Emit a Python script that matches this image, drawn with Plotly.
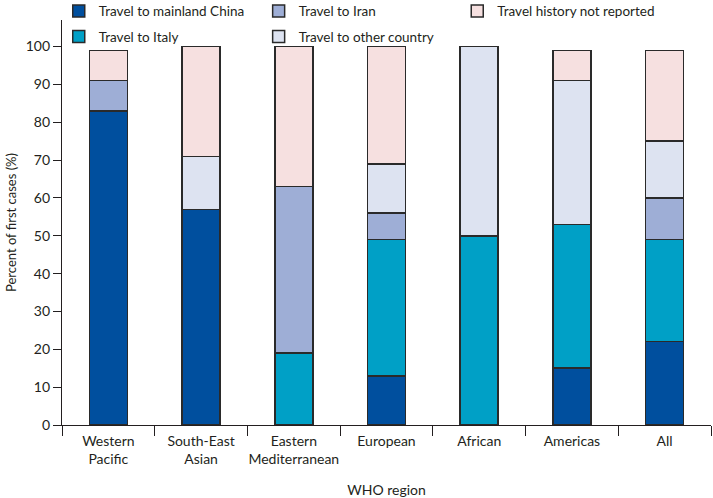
import plotly.graph_objects as go

regions = ["Western<br>Pacific", "South-East<br>Asian", "Eastern<br>Mediterranean",
           "European", "African", "Americas", "All"]
china = [83, 57, 0, 13, 0, 15, 22]
italy = [0, 0, 19, 36, 50, 38, 27]
iran = [8, 0, 44, 7, 0, 0, 11]
other = [0, 14, 0, 13, 50, 38, 15]
not_reported = [8, 29, 37, 31, 0, 8, 24]

series = [
    ("Travel to mainland China", china, "#004F9E", "legend"),
    ("Travel to Italy", italy, "#00A0C6", "legend"),
    ("Travel to Iran", iran, "#9EAED6", "legend2"),
    ("Travel to other country", other, "#DDE3F1", "legend2"),
    ("Travel history not reported", not_reported, "#F6E0E0", "legend3"),
]

FONT = "Lato, sans-serif"

fig = go.Figure()
for name, vals, color, leg in series:
    fig.add_trace(go.Bar(
        x=regions, y=vals, name=name, legend=leg, legendgroup=name,
        marker=dict(color=color, line=dict(color="#2a2a2a", width=1.5)),
    ))

def leg(xpos):
    return dict(
        orientation="v", x=xpos, xanchor="left", y=1.06, yanchor="top",
        traceorder="grouped", tracegroupgap=5,
        font=dict(size=13.5), itemwidth=30,
        bgcolor="rgba(0,0,0,0)",
    )

fig.update_layout(
    barmode="stack",
    bargap=0.59,
    width=713, height=498,
    margin=dict(l=62, r=2, t=20, b=73, autoexpand=False),
    paper_bgcolor="white", plot_bgcolor="white",
    font=dict(family=FONT, size=13, color="#231f20"),
    legend=leg(-0.005),
    legend2=leg(0.303),
    legend3=leg(0.609),
    showlegend=True,
)
fig.update_yaxes(
    range=[0, 107], tickvals=list(range(0, 101, 10)),
    ticks="outside", ticklen=8, tickwidth=1.2, tickcolor="#231f20",
    showline=True, linecolor="#231f20", linewidth=1.2,
    showgrid=False, zeroline=False, automargin=False,
    title=dict(text="Percent of first cases (%)", font=dict(size=13), standoff=6),
    tickfont=dict(size=14),
)
fig.update_xaxes(
    tickson="boundaries", ticks="outside", ticklen=10, tickwidth=1.2,
    tickcolor="#231f20", showline=True, linecolor="#231f20", linewidth=1.2,
    showgrid=False, tickangle=0, automargin=False, ticklabelstandoff=3,
    title=dict(text="WHO region", font=dict(size=14), standoff=19),
    tickfont=dict(size=14),
)
fig.write_html(
    "out.html",
    config={"displayModeBar": False},
    post_script="document.body.style.margin='0';document.body.style.padding='0';",
)
